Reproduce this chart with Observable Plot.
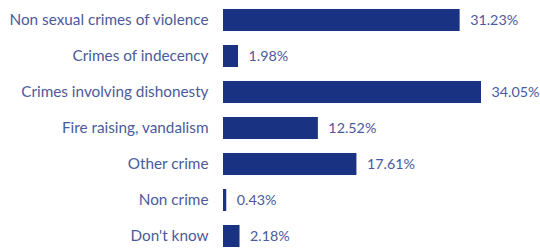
<!DOCTYPE html>
<html>
<head>
<meta charset="utf-8">
<script src="https://cdn.jsdelivr.net/npm/d3@7"></script>
<script src="https://cdn.jsdelivr.net/npm/@observablehq/plot@0.6"></script>
<style>
  html, body { margin: 0; padding: 0; background: #fff; }
  #chart svg { display: block; }
</style>
</head>
<body>
<div id="chart"></div>
<script>
const categories = [
  "Non sexual crimes of violence",
  "Crimes of indecency",
  "Crimes involving dishonesty",
  "Fire raising, vandalism",
  "Other crime",
  "Non crime",
  "Don't know"
];
const values = [31.23, 1.98, 34.05, 12.52, 17.61, 0.43, 2.18];

const data = categories.map((c, i) => ({category: c, value: values[i]}));

const barColor = "#1a3282";
const textColor = "#4b5a9c";

const chart = Plot.plot({
  width: 540,
  height: 250,
  margin: 0,
  style: {fontFamily: "Lato, 'Open Sans', sans-serif", fontSize: "15px", background: "#fff", overflow: "visible"},
  x: {domain: [0, 34.05], range: [223, 481], axis: null},
  y: {domain: categories, range: [6, 251], paddingInner: 0.378, paddingOuter: 0, axis: null},
  marks: [
    Plot.barX(data, {x: "value", y: "category", fill: barColor}),
    Plot.text(data, {x: 0, y: "category", text: "category", textAnchor: "end", dx: -15, fill: textColor, fontSize: 15.3}),
    Plot.text(data, {x: "value", y: "category", text: d => d.value.toFixed(2) + "%", textAnchor: "start", dx: 10, fill: textColor, fontSize: 14.3})
  ]
});
document.getElementById("chart").appendChild(chart);
</script>
</body>
</html>
